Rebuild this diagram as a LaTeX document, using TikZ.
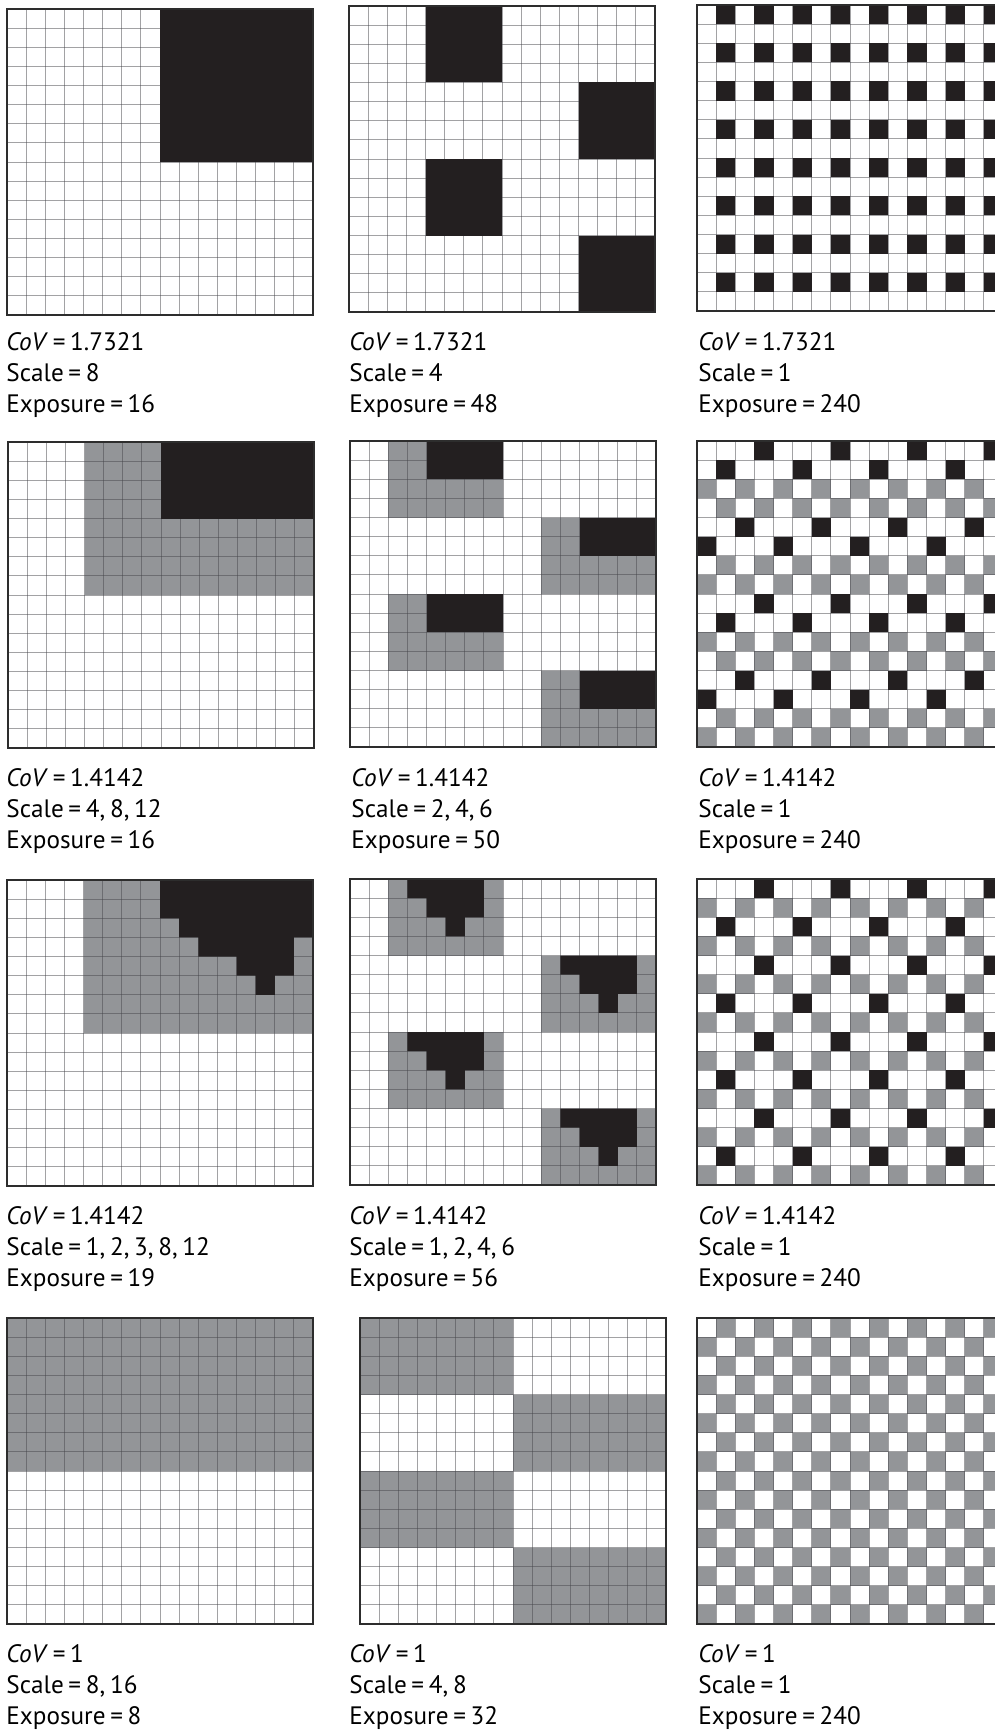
\documentclass[tikz,border=0pt]{standalone}
\usepackage{fontspec}
\setmainfont[WordSpace=0.7]{PT Sans}
\usepackage{tikz}
\usetikzlibrary{positioning}
\definecolor{cellblack}{RGB}{35,31,32}
\definecolor{cellgray}{RGB}{147,149,152}
\definecolor{griddark}{RGB}{70,70,75}
\definecolor{framedark}{RGB}{45,45,45}
\tikzset{
  blackcell/.style={fill=cellblack},
  graycell/.style={fill=cellgray},
  gridline/.style={draw=griddark, draw opacity=0.5, line width=0.45pt},
  frame/.style={draw=framedark, line width=1pt},
  caption/.style={anchor=base west, inner sep=0pt, font=\fontsize{12.6}{15}\selectfont},
  panel/.style={x=9.5625pt, y=-9.5625pt}
}
\newcommand{\cellgrid}{%
  \foreach \i in {1,...,15} {
    \draw[gridline] (\i,0) -- (\i,16);
    \draw[gridline] (0,\i) -- (16,\i);
  }}

\begin{document}
\begin{tikzpicture}[x=0.5pt, y=-0.5pt]
  \fill[white] (0,0) rectangle (995,1734);
  \useasboundingbox (0,0) rectangle (995,1734);
  \clip (0,0) rectangle (995,1734);

  % row 1
  \begin{scope}[shift={(7,9)}, panel]
    \cellgrid
    \fill[blackcell] (8,0) rectangle (16,8);
    \draw[frame] (0,0) rectangle (16,16);
  \end{scope}
  \begin{scope}[shift={(349,6)}, panel]
    \cellgrid
    \foreach \c/\r in {4/0,12/4,4/8,12/12}
      \fill[blackcell] (\c,\r) rectangle ++(4,4);
    \draw[frame] (0,0) rectangle (16,16);
  \end{scope}
  \begin{scope}[shift={(697,5)}, panel]
    \cellgrid
    \foreach \c in {1,3,...,15}
      \foreach \r in {0,2,...,14}
        \fill[blackcell] (\c,\r) rectangle ++(1,1);
    \draw[frame] (0,0) rectangle (16,16);
  \end{scope}

  % row 2
  \begin{scope}[shift={(8,442)}, panel]
    \fill[graycell] (4,0) rectangle (16,8);
    \cellgrid
    \fill[blackcell] (8,0) rectangle (16,4);
    \draw[frame] (0,0) rectangle (16,16);
  \end{scope}
  \begin{scope}[shift={(350,441)}, panel]
    \foreach \c/\r in {2/0,10/4,2/8,10/12}
      \fill[graycell] (\c,\r) rectangle ++(6,4);
    \cellgrid
    \foreach \c/\r in {2/0,10/4,2/8,10/12}
      \fill[blackcell] ({\c+2},\r) rectangle ++(4,2);
    \draw[frame] (0,0) rectangle (16,16);
  \end{scope}
  \begin{scope}[shift={(697,441)}, panel]
    \foreach \r in {0,8}
      \foreach \c in {0,2,...,14} {
        \fill[graycell] (\c,{\r+2}) rectangle ++(1,1);
        \fill[graycell] ({\c+1},{\r+3}) rectangle ++(1,1);
        \fill[graycell] ({\c+1},{\r+6}) rectangle ++(1,1);
        \fill[graycell] (\c,{\r+7}) rectangle ++(1,1);
      }
    \cellgrid
    \foreach \r in {0,8}
      \foreach \c in {0,4,8,12} {
        \fill[blackcell] ({\c+3},\r) rectangle ++(1,1);
        \fill[blackcell] ({\c+1},{\r+1}) rectangle ++(1,1);
        \fill[blackcell] ({\c+2},{\r+4}) rectangle ++(1,1);
        \fill[blackcell] (\c,{\r+5}) rectangle ++(1,1);
      }
    \draw[frame] (0,0) rectangle (16,16);
  \end{scope}

  % row 3
  \begin{scope}[shift={(7,880)}, panel]
    \fill[graycell] (4,0) rectangle (16,8);
    \cellgrid
    \fill[blackcell] (8,0) -- (16,0) -- (16,3) -- (15,3) -- (15,5) -- (14,5)
      -- (14,6) -- (13,6) -- (13,5) -- (12,5) -- (12,4) -- (10,4) -- (10,3)
      -- (9,3) -- (9,2) -- (8,2) -- cycle;
    \draw[frame] (0,0) rectangle (16,16);
  \end{scope}
  \begin{scope}[shift={(350,879)}, panel]
    \foreach \c/\r in {2/0,10/4,2/8,10/12}
      \fill[graycell] (\c,\r) rectangle ++(6,4);
    \cellgrid
    \foreach \c/\r in {2/0,10/4,2/8,10/12}
      \fill[blackcell, shift={(\c,\r)}] (1,0) -- (5,0) -- (5,2) -- (4,2) -- (4,3)
        -- (3,3) -- (3,2) -- (2,2) -- (2,1) -- (1,1) -- cycle;
    \draw[frame] (0,0) rectangle (16,16);
  \end{scope}
  \begin{scope}[shift={(697,879)}, panel]
    \foreach \r in {1,3,...,15}
      \foreach \c in {0,2,...,14}
        \fill[graycell] (\c,\r) rectangle ++(1,1);
    \cellgrid
    \foreach \r in {0,4,8,12}
      \foreach \c in {0,4,8,12} {
        \fill[blackcell] ({\c+3},\r) rectangle ++(1,1);
        \fill[blackcell] ({\c+1},{\r+2}) rectangle ++(1,1);
      }
    \draw[frame] (0,0) rectangle (16,16);
  \end{scope}

  % row 4
  \begin{scope}[shift={(7,1318)}, panel]
    \fill[graycell] (0,0) rectangle (16,8);
    \cellgrid
    \draw[frame] (0,0) rectangle (16,16);
  \end{scope}
  \begin{scope}[shift={(360,1318)}, panel]
    \foreach \c/\r in {0/0,8/4,0/8,8/12}
      \fill[graycell] (\c,\r) rectangle ++(8,4);
    \cellgrid
    \draw[frame] (0,0) rectangle (16,16);
  \end{scope}
  \begin{scope}[shift={(697,1318)}, panel]
    \foreach \r in {0,2,...,14}
      \foreach \c in {1,3,...,15} {
        \fill[graycell] (\c,\r) rectangle ++(1,1);
        \fill[graycell] ({\c-1},{\r+1}) rectangle ++(1,1);
      }
    \cellgrid
    \draw[frame] (0,0) rectangle (16,16);
  \end{scope}

  % captions
  \foreach \px/\py/\cv/\sc/\ex [count=\k] in {
      6/350/1.7321/8/16, 349/350/1.7321/4/48, 698/350/1.7321/1/240,
      6/786/1.4142/{4, 8, 12}/16, 351/786/1.4142/{2, 4, 6}/50, 698/786/1.4142/1/240,
      6/1224/1.4142/{1, 2, 3, 8, 12}/19, 349/1224/1.4142/{1, 2, 4, 6}/56, 698/1224/1.4142/1/240,
      6/1662/1/{8, 16}/8, 349/1662/1/{4, 8}/32, 698/1662/1/1/240} {
    \node[caption] (cov\k) at (\px,\py) {\textit{CoV} = \cv};
    \node[caption] (scale\k) at (\px,\py+31) {Scale = \sc};
    \node[caption] (expo\k) at (\px,\py+62) {Exposure = \ex};
  }
\end{tikzpicture}
\end{document}
